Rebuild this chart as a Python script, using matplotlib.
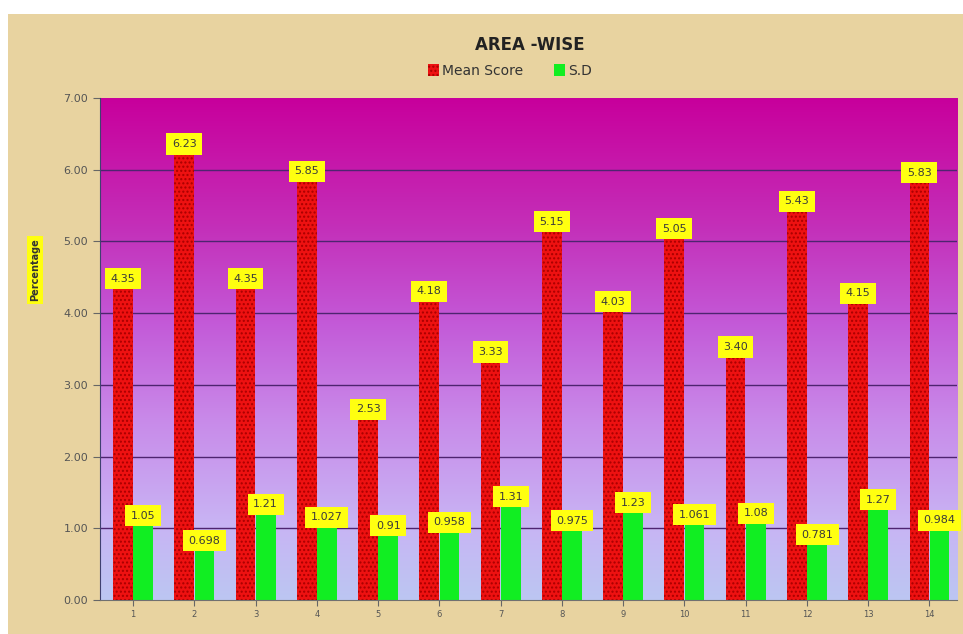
import numpy as np
import matplotlib
matplotlib.use('Agg')
import matplotlib.pyplot as plt
from matplotlib.colors import LinearSegmentedColormap
import matplotlib.patches as mpatches

areas = [str(i) for i in range(1, 15)]
mean_score = [4.35, 6.23, 4.35, 5.85, 2.53, 4.18, 3.33, 5.15, 4.03, 5.05, 3.40, 5.43, 4.15, 5.83]
sd = [1.05, 0.698, 1.21, 1.027, 0.91, 0.958, 1.31, 0.975, 1.23, 1.061, 1.08, 0.781, 1.27, 0.984]
mean_labels = ['4.35', '6.23', '4.35', '5.85', '2.53', '4.18', '3.33', '5.15', '4.03', '5.05', '3.40', '5.43', '4.15', '5.83']
sd_labels = ['1.05', '0.698', '1.21', '1.027', '0.91', '0.958', '1.31', '0.975', '1.23', '1.061', '1.08', '0.781', '1.27', '0.984']

parchment = '#e8d3a0'

fig = plt.figure(figsize=(9.63, 6.34), dpi=100)
fig.patch.set_facecolor('white')
# parchment panel (small white margin top/left like the screenshot)
fig.patches.append(mpatches.Rectangle((8 / 963, 0), 1, 1 - 14 / 634, transform=fig.transFigure,
                                      facecolor=parchment, edgecolor='none', zorder=-10))

ax = fig.add_axes([100 / 963, 34 / 634, 857 / 963, 502 / 634])
x = np.arange(len(areas))
xlim = (-0.54, 13.45)

# gradient plot area: lavender at bottom to magenta at top
cmap = LinearSegmentedColormap.from_list('bg', [
    (0.0, '#bcc6f2'), (0.15, '#c8b4f4'), (0.35, '#c98cea'),
    (0.55, '#c35ad8'), (0.75, '#c42eb8'), (1.0, '#c8009c')])
grad = np.linspace(0, 1, 256).reshape(-1, 1)
ax.imshow(grad, cmap=cmap, origin='lower', aspect='auto',
          extent=[xlim[0], xlim[1], 0, 7], zorder=0)

for yv in range(1, 7):
    ax.axhline(yv, color='#4e2470', lw=1.0, zorder=1)

w = 0.32
ax.bar(x - 0.165, mean_score, w, color='#ee1111', edgecolor='#a80000', linewidth=0,
       hatch='....', zorder=2, label='Mean Score')
ax.bar(x + 0.165, sd, w, color='#11ee22', linewidth=0, zorder=2, label='S.D')

box = dict(boxstyle='square,pad=0.5', facecolor='#ffff10', edgecolor='none')
for xi, v, s in zip(x, mean_score, mean_labels):
    ax.annotate(s, (xi - 0.165, v), xytext=(0, 3), textcoords='offset points',
                ha='center', va='bottom', fontsize=8, color='#3a3a3a', bbox=box, zorder=4)
for xi, v, s in zip(x, sd, sd_labels):
    ax.annotate(s, (xi + 0.165, v), xytext=(0, 3), textcoords='offset points',
                ha='center', va='bottom', fontsize=8, color='#3a3a3a', bbox=box, zorder=4)

ax.set_xlim(xlim)
ax.set_ylim(0, 7)
ax.set_yticks(range(8))
ax.set_yticklabels([f'{v:.2f}' for v in range(8)], fontsize=8, color='#555555')
ax.set_xticks(x)
ax.set_xticklabels(areas, fontsize=6, color='#555555')
ax.tick_params(axis='y', length=5, color='#666666')
ax.tick_params(axis='x', length=4, color='#666666')
for side in ['top', 'right']:
    ax.spines[side].set_visible(False)
ax.spines['left'].set_color('#404070')
ax.spines['bottom'].set_color('#707070')

fig.text(35 / 963, 1 - 270 / 634, 'Percentage', rotation=90, ha='center', va='center',
         fontsize=7, fontweight='bold', color='#333333',
         bbox=dict(boxstyle='square,pad=0.3', facecolor='#ffff10', edgecolor='none'))

fig.text(530 / 963, 1 - 45 / 634, 'AREA -WISE', ha='center', va='center',
         fontsize=12, fontweight='bold', color='#222222')
fig.legend(loc='center', bbox_to_anchor=(510 / 963, 1 - 71 / 634), ncol=2, frameon=False,
           fontsize=10, handlelength=0.8, handleheight=0.9, handletextpad=0.2,
           columnspacing=2.2, labelcolor='#333333')

fig.savefig('out.png', dpi=100, facecolor=fig.get_facecolor())
